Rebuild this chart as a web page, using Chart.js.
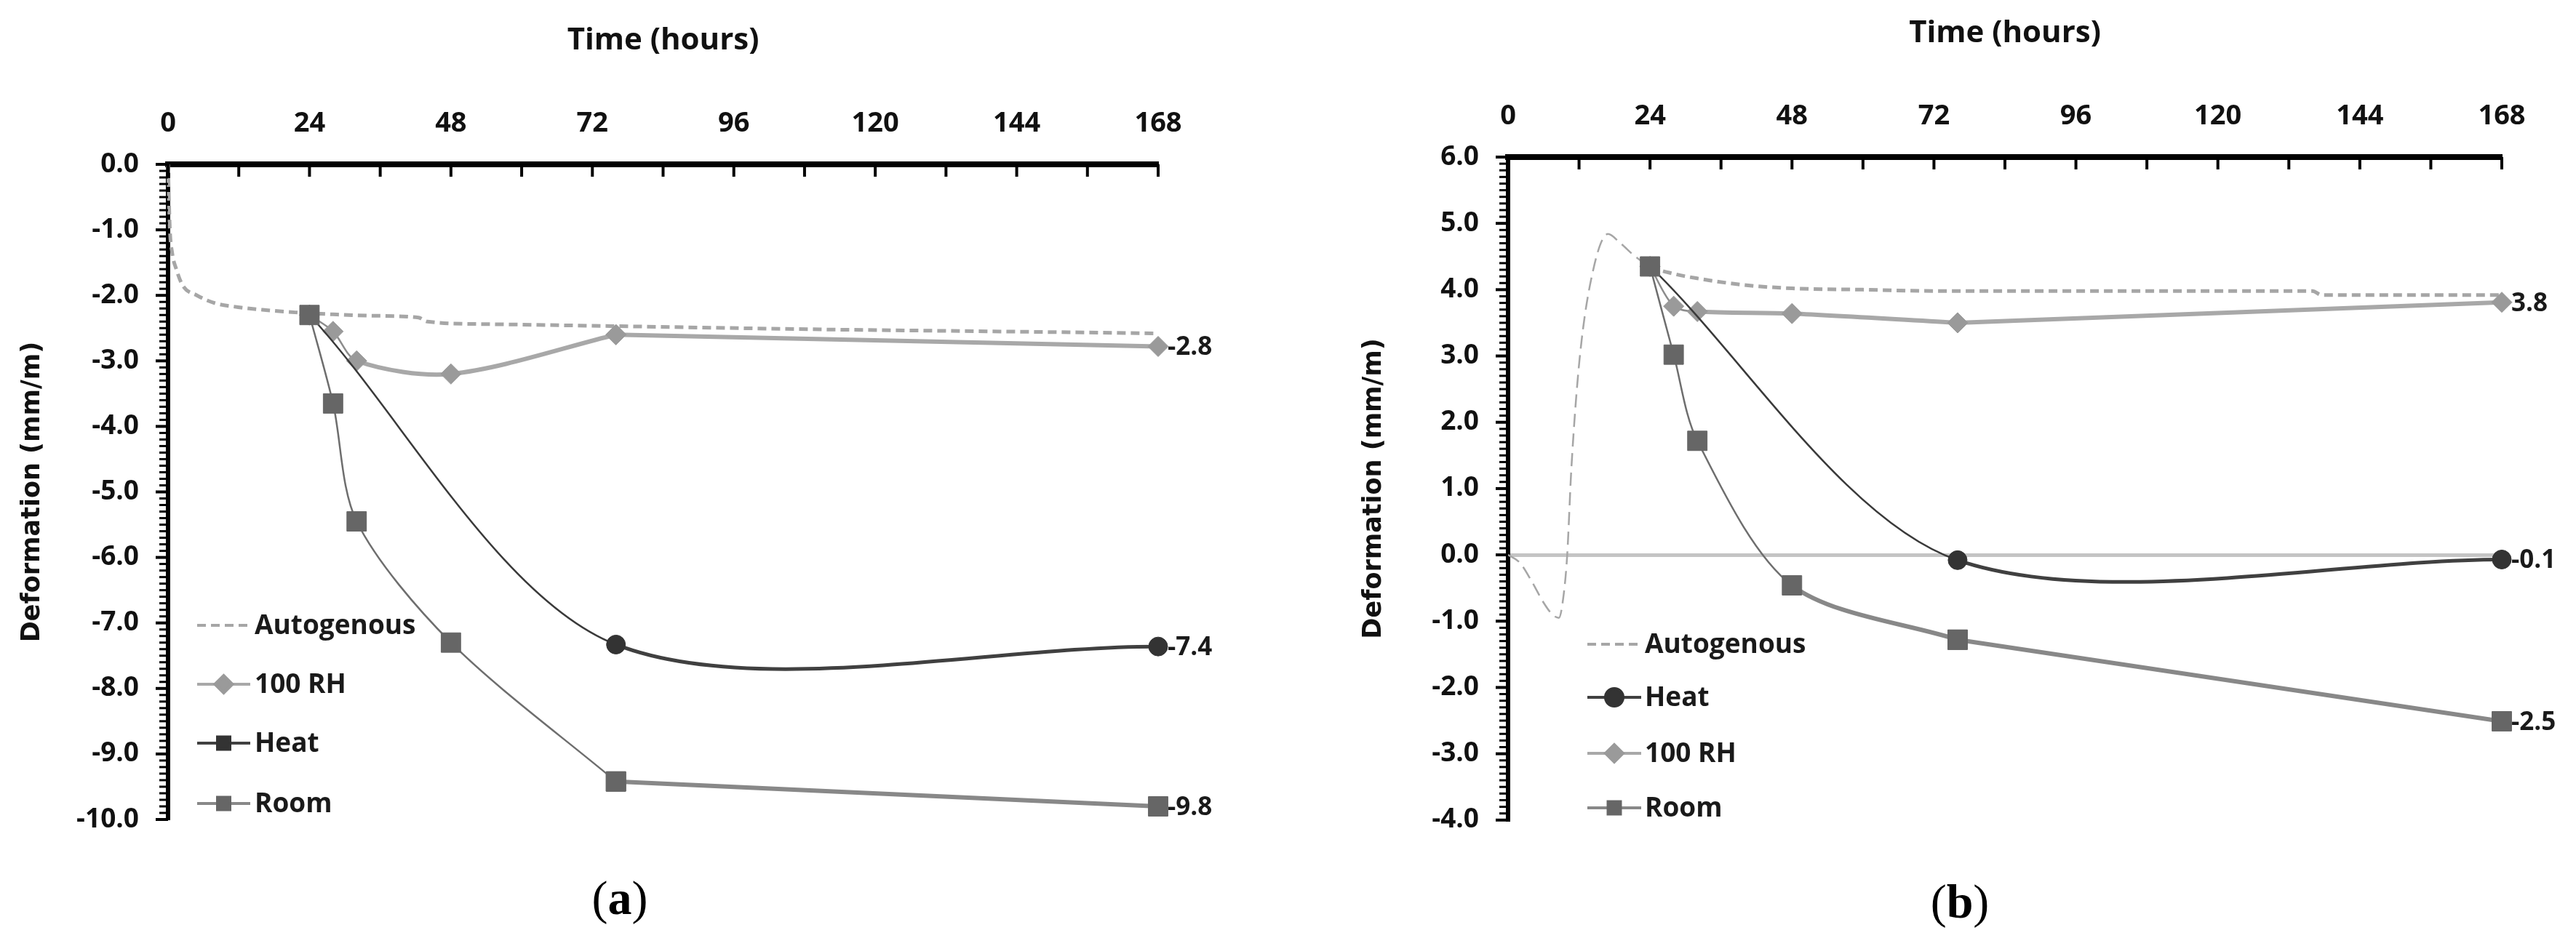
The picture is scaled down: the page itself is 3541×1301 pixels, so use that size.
<!DOCTYPE html>
<html>
<head>
<meta charset="utf-8">
<script src="https://cdn.jsdelivr.net/npm/chart.js@4.4.0/dist/chart.umd.min.js"></script>
<style>
  body { margin: 0; background: #fff; width: 3541px; height: 1301px; position: relative; overflow: hidden; }
  canvas { position: absolute; top: 0; }
  .cap { position: absolute; font-family: 'Liberation Serif', 'DejaVu Serif', serif; font-size: 66px; line-height: 1; color: #000; transform: translate(-50%, -50%); }
</style>
</head>
<body>
<canvas id="chartA" width="1770" height="1190" style="left:0px"></canvas>
<canvas id="chartB" width="1771" height="1190" style="left:1770px"></canvas>
<div class="cap" style="left:852px; top:1235px">(<b>a</b>)</div>
<div class="cap" style="left:2694px; top:1240px">(<b>b</b>)</div>
<script>
// ---- panel (a) ----
const aAutoHours = [0, 0.3, 0.7, 1.4, 2.5, 4.9, 8, 11.9, 16, 21.6, 28, 34, 42.5, 44, 55, 76, 111, 140, 168];
const aAutoDef   = [0, -0.97, -1.35, -1.6, -1.85, -2.0, -2.12, -2.18, -2.22, -2.26, -2.29, -2.31, -2.34, -2.4, -2.44, -2.47, -2.52, -2.55, -2.58];
const aRhHours   = [24, 28, 32, 48, 76, 168];
const aRhDef     = [-2.3, -2.55, -3.0, -3.2, -2.6, -2.78];
const aHeatHours = [24, 76, 168];
const aHeatDef   = [-2.3, -7.33, -7.36];
const aRoomHours = [24, 28, 32, 48, 76, 168];
const aRoomDef   = [-2.3, -3.65, -5.45, -7.3, -9.42, -9.8];

// ---- panel (b) ----
const bAutoHours = [0, 2, 4, 6, 7.5, 8.6, 9.4, 10, 10.7, 12.1, 14.4, 16.9, 19, 21.5, 24, 28, 32, 40, 48, 60, 72, 136, 137.5, 168];
const bAutoDef   = [0, -0.12, -0.4, -0.72, -0.9, -0.95, -0.6, 0, 1.3, 2.96, 4.3, 4.84, 4.7, 4.5, 4.35, 4.24, 4.17, 4.07, 4.02, 4.0, 3.98, 3.98, 3.92, 3.92];
const bHeatHours = [24, 76, 168];
const bHeatDef   = [4.35, -0.08, -0.07];
const bRhHours   = [24, 28, 32, 48, 76, 168];
const bRhDef     = [4.35, 3.75, 3.67, 3.64, 3.5, 3.81];
const bRoomHours = [24, 28, 32, 48, 76, 168];
const bRoomDef   = [4.35, 3.02, 1.72, -0.46, -1.28, -2.51];

const legendA = ['Autogenous', '100 RH', 'Heat', 'Room'];
const legendB = ['Autogenous', 'Heat', '100 RH', 'Room'];

const SANS = "'Open Sans', 'Noto Sans', sans-serif";

const styles = {
  auto: { color: '#a6a6a6', thinColor: '#a6a6a6', point: '#a6a6a6', style: false, radius: 0, thick: 5, thin: 2.5, dash: [12, 7], thinDash: [18, 9], mode: 'monotone' },
  rh:   { color: '#a8a8a8', thinColor: '#8c8c8c', point: '#9a9a9a', style: 'rectRot', radius: 14, thick: 6, thin: 2.5, tension: 0.3 },
  heat: { color: '#404040', thinColor: '#3a3a3a', point: '#333333', style: 'circle', radius: 13, thick: 5, thin: 2.5, tension: 0.3 },
  room: { color: '#888888', thinColor: '#6e6e6e', point: '#666666', style: 'rect', radius: 19, thick: 6, thin: 2.5, tension: 0.3 }
};

function oneSet(label, hours, defs, s, thickFrom, endLabel, tension) {
  return {
    label: label,
    data: hours.map((h, i) => ({ x: h, y: defs[i] })),
    borderColor: s.color,
    backgroundColor: s.point,
    pointBackgroundColor: s.point,
    pointBorderColor: s.point,
    pointStyle: s.style,
    pointRadius: s.radius,
    pointBorderWidth: 1,
    borderWidth: s.thick,
    borderDash: s.dash || [],
    tension: tension,
    cubicInterpolationMode: s.mode || 'default',
    fill: false,
    clip: false,
    endLabel: endLabel,
    segment: {
      borderWidth: ctx => ctx.p0.parsed.x < thickFrom ? s.thin : s.thick,
      borderColor: ctx => ctx.p0.parsed.x < thickFrom ? s.thinColor : s.color,
      borderDash: ctx => ctx.p0.parsed.x < thickFrom ? (s.thinDash || s.dash || []) : (s.dash || [])
    }
  };
}

// a series is smoothed up to index `straightAt`, then drawn straight to the end
function makeSets(label, hours, defs, s, thickFrom, endLabel, straightAt) {
  if (straightAt === undefined) {
    return [oneSet(label, hours, defs, s, thickFrom, endLabel, s.tension || 0)];
  }
  return [
    oneSet(label, hours.slice(0, straightAt + 1), defs.slice(0, straightAt + 1), s, thickFrom, false, s.tension || 0),
    oneSet(label, hours.slice(straightAt), defs.slice(straightAt), s, thickFrom, endLabel, 0)
  ];
}

// ticks on the axes, end labels and the legend
const decor = {
  id: 'decor',
  afterDraw(chart) {
    const o = chart.options.plugins.decor;
    const ctx = chart.ctx;
    const xs = chart.scales.x, ys = chart.scales.y;
    const area = chart.chartArea;
    ctx.save();
    ctx.strokeStyle = '#000';
    ctx.lineWidth = 4;
    for (let h = 0; h <= 168; h += 12) {
      const px = xs.getPixelForValue(h);
      ctx.beginPath(); ctx.moveTo(px, area.top); ctx.lineTo(px, area.top + 17); ctx.stroke();
    }
    const n = Math.round((ys.max - ys.min) * 10);
    for (let i = 0; i <= n; i++) {
      const py = ys.getPixelForValue(ys.min + i / 10);
      const major = i % 10 === 0;
      ctx.lineWidth = major ? 4 : 3;
      ctx.beginPath(); ctx.moveTo(area.left, py); ctx.lineTo(area.left - (major ? 17 : 12), py); ctx.stroke();
    }

    // end labels
    ctx.fillStyle = '#1a1a1a';
    ctx.font = 'bold 35px ' + SANS;
    ctx.textAlign = 'left';
    ctx.textBaseline = 'middle';
    chart.data.datasets.forEach((ds, i) => {
      if (!ds.endLabel) return;
      const meta = chart.getDatasetMeta(i);
      const pt = meta.data[meta.data.length - 1];
      const v = ds.data[ds.data.length - 1].y;
      ctx.fillText(v.toFixed(1), pt.x + 13, pt.y + 2);
    });

    // legend
    o.items.forEach((it, k) => {
      const y = o.rows[k];
      ctx.strokeStyle = it.color;
      ctx.lineWidth = it.width;
      ctx.setLineDash(it.dash || []);
      ctx.beginPath(); ctx.moveTo(o.x0, y); ctx.lineTo(o.x1, y); ctx.stroke();
      ctx.setLineDash([]);
      if (it.style) {
        ctx.fillStyle = it.point;
        ctx.strokeStyle = it.point;
        Chart.helpers.drawPoint(ctx, { pointStyle: it.style, radius: it.radius, rotation: 0, borderWidth: 1 }, (o.x0 + o.x1) / 2, y);
      }
      ctx.fillStyle = '#1a1a1a';
      ctx.font = 'bold 37px ' + SANS;
      ctx.textAlign = 'left';
      ctx.textBaseline = 'middle';
      ctx.fillText(it.text, o.xt, y + 1);
    });
    ctx.restore();
  }
};

function legendItem(text, s, style) {
  return { text: text, color: s.color, width: 4, dash: s.dash, style: style === undefined ? s.style : style, radius: s.radius ? 12 : 0, point: s.point };
}

function makeOptions(c) {
  return {
    responsive: false,
    devicePixelRatio: 1,
    animation: false,
    layout: { padding: { left: 0, right: c.padRight, top: 0, bottom: c.padBottom } },
    plugins: { legend: { display: false }, tooltip: { enabled: false }, decor: c.decor },
    scales: {
      x: {
        type: 'linear', position: 'top', min: 0, max: 168,
        ticks: { stepSize: 24, autoSkip: false, maxRotation: 0, color: '#111', padding: 33,
                 font: { family: SANS, size: 38, weight: 'bold' } },
        grid: { display: false, drawTicks: false },
        border: { display: true, color: '#000', width: 8 },
        title: { display: true, text: 'Time (hours)', color: '#111',
                 font: { family: SANS, size: 42, weight: 'bold' }, padding: { top: c.xTitleTop, bottom: 0 } },
        afterFit: s => { s.height = c.axisH; }
      },
      y: {
        type: 'linear', min: c.yMin, max: c.yMax,
        ticks: { stepSize: 1, color: '#111', padding: 40, callback: v => v.toFixed(1),
                 font: { family: SANS, size: 37, weight: 'bold' } },
        grid: c.zeroLine
          ? { display: true, drawTicks: false, lineWidth: 5,
              color: ctx => (ctx.tick && ctx.tick.value === 0) ? '#c4c4c4' : 'rgba(0,0,0,0)' }
          : { display: false, drawTicks: false },
        border: { display: true, color: '#000', width: 6 },
        title: { display: true, text: 'Deformation (mm/m)', color: '#111',
                 font: { family: 'DejaVu Sans', size: 35, weight: 'bold' }, padding: { top: c.yTitleTop, bottom: 0 } },
        afterFit: s => { s.width = c.axisW; }
      }
    }
  };
}

new Chart(document.getElementById('chartA'), {
  type: 'line',
  data: {
    datasets: [].concat(
      makeSets(legendA[3], aRoomHours, aRoomDef, styles.room, 76, true, 4),
      makeSets(legendA[2], aHeatHours, aHeatDef, styles.heat, 76, true),
      makeSets(legendA[1], aRhHours, aRhDef, styles.rh, 32, true, 4),
      makeSets(legendA[0], aAutoHours, aAutoDef, styles.auto, 0, false)
    )
  },
  options: makeOptions({
    yMin: -10, yMax: 0, axisH: 226, axisW: 231, padRight: 178, padBottom: 63,
    xTitleTop: 31, yTitleTop: 24, zeroLine: false,
    decor: {
      x0: 271, x1: 344, xt: 350, rows: [860, 941, 1022, 1105],
      items: [legendItem(legendA[0], styles.auto), legendItem(legendA[1], styles.rh),
              legendItem(legendA[2], styles.heat, 'rect'), legendItem(legendA[3], styles.room)]
    }
  }),
  plugins: [decor]
});

new Chart(document.getElementById('chartB'), {
  type: 'line',
  data: {
    datasets: [].concat(
      makeSets(legendB[3], bRoomHours, bRoomDef, styles.room, 48, true, 4),
      makeSets(legendB[1], bHeatHours, bHeatDef, styles.heat, 76, true),
      makeSets(legendB[2], bRhHours, bRhDef, styles.rh, 32, true, 4),
      makeSets(legendB[0], bAutoHours, bAutoDef, styles.auto, 24, false)
    )
  },
  options: makeOptions({
    yMin: -4, yMax: 6, axisH: 216, axisW: 303, padRight: 102, padBottom: 46,
    xTitleTop: 21, yTitleTop: 98, zeroLine: true,
    decor: {
      x0: 412, x1: 486, xt: 491, rows: [886, 959, 1036, 1111],
      items: [legendItem(legendB[0], styles.auto), legendItem(legendB[1], styles.heat),
              legendItem(legendB[2], styles.rh), legendItem(legendB[3], styles.room)]
    }
  }),
  plugins: [decor]
});
</script>
</body>
</html>
